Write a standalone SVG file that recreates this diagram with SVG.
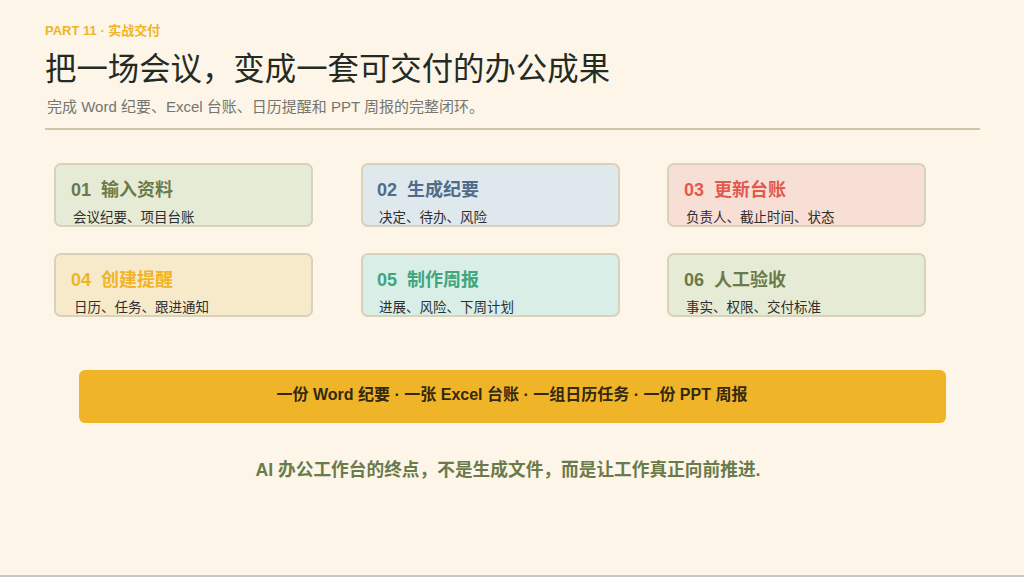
<svg xmlns="http://www.w3.org/2000/svg" width="1024" height="577" viewBox="0 0 1024 577">
<style>
.card{stroke:#d9d2bb;stroke-width:2}
.ct{font-family:"Liberation Sans","Noto Sans CJK SC",sans-serif;font-size:18px;font-weight:bold}
.cs{font-family:"Liberation Serif","Noto Sans CJK SC",serif;font-size:13.5px;fill:#2e2e2e}
.sans{font-family:"Liberation Sans","Noto Sans CJK SC",sans-serif}
</style>
<rect x="0" y="0" width="1024" height="577" fill="#fcf5e8"/>
<rect x="0" y="575" width="1024" height="2" fill="#c8c6c0"/>
<text x="45" y="35" class="sans" font-size="13" font-weight="bold" fill="#f0b429">PART 11 · 实战交付</text>
<text x="45" y="80" font-family="Liberation Sans,'Noto Sans CJK SC',sans-serif" font-size="31.4" fill="#252a22">把一场会议，变成一套可交付的办公成果</text>
<text x="47" y="112" class="sans" font-size="15" fill="#76766e">完成 Word 纪要、Excel 台账、日历提醒和 PPT 周报的完整闭环。</text>
<rect x="45" y="128" width="935" height="2" fill="#cfc6aa"/>
<g id="node1"><rect class="card" x="55" y="164" width="257" height="62" rx="6" fill="#e6ebd5"/><text class="ct" x="71" y="196" fill="#6b7a4a">01<tspan x="101">输入资料</tspan></text><text class="cs" x="73" y="222">会议纪要、项目台账</text></g>
<g id="node2"><rect class="card" x="362" y="164" width="257" height="62" rx="6" fill="#dfe8ec"/><text class="ct" x="377" y="196" fill="#4f6c8a">02<tspan x="407">生成纪要</tspan></text><text class="cs" x="379" y="222">决定、待办、风险</text></g>
<g id="node3"><rect class="card" x="668" y="164" width="257" height="62" rx="6" fill="#f8dfd6"/><text class="ct" x="684" y="196" fill="#e05a4e">03<tspan x="714">更新台账</tspan></text><text class="cs" x="686" y="222">负责人、截止时间、状态</text></g>
<g id="node4"><rect class="card" x="55" y="254" width="257" height="62" rx="6" fill="#f7eacb"/><text class="ct" x="71" y="286" fill="#f0b429">04<tspan x="101">创建提醒</tspan></text><text class="cs" x="74" y="312">日历、任务、跟进通知</text></g>
<g id="node5"><rect class="card" x="362" y="254" width="257" height="62" rx="6" fill="#d9eee6"/><text class="ct" x="377" y="286" fill="#3fa67e">05<tspan x="407">制作周报</tspan></text><text class="cs" x="379" y="312">进展、风险、下周计划</text></g>
<g id="node6"><rect class="card" x="668" y="254" width="257" height="62" rx="6" fill="#e6ebd5"/><text class="ct" x="684" y="286" fill="#6b7a4a">06<tspan x="714">人工验收</tspan></text><text class="cs" x="686" y="312">事实、权限、交付标准</text></g>
<g id="banner"><rect x="79" y="370" width="867" height="53" rx="6" fill="#f0b429"/><text x="512" y="400" text-anchor="middle" class="sans" font-size="16" font-weight="bold" fill="#33290f">一份 Word 纪要 · 一张 Excel 台账 · 一组日历任务 · 一份 PPT 周报</text></g>
<text x="508" y="476" text-anchor="middle" class="sans" font-size="17.7" font-weight="bold" fill="#6b7a4a">AI 办公工作台的终点，不是生成文件，而是让工作真正向前推进.</text>
<g id="connectors"></g>
</svg>
